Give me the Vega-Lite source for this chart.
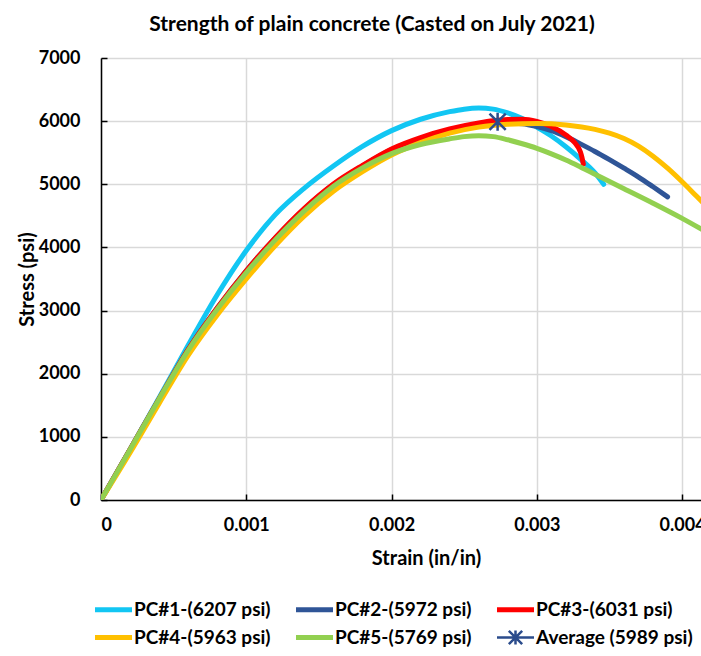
{
  "$schema": "https://vega.github.io/schema/vega-lite/v6.json",
  "autosize": {"type": "none"},
  "width": 600,
  "height": 442,
  "padding": {"left": 101, "top": 58, "right": 0, "bottom": 156},
  "background": "white",
  "title": {"text": "Strength of plain concrete (Casted on July 2021)", "font": "Lato", "fontSize": 21, "fontWeight": "bold", "color": "#000000", "anchor": "middle", "dx": -29, "offset": 14},
  "config": {
    "view": {"stroke": null},
    "font": "Lato",
    "axis": {
      "domainColor": "#000000", "domainWidth": 1.5,
      "tickColor": "#000000", "tickWidth": 1.5, "tickSize": -6,
      "gridColor": "#d9d9d9", "gridWidth": 1.5,
      "labelFont": "Lato", "labelFontSize": 18, "labelFontWeight": "bold", "labelColor": "#000000",
      "titleFont": "Lato", "titleFontSize": 20, "titleFontWeight": "bold", "titleColor": "#000000"
    }
  },
  "datasets": {
    "curves": [
      {"series": "PC#1-(6207 psi)", "strain": 0, "stress": 0},
      {"series": "PC#1-(6207 psi)", "strain": 0.0002, "stress": 800},
      {"series": "PC#1-(6207 psi)", "strain": 0.0004, "stress": 1620},
      {"series": "PC#1-(6207 psi)", "strain": 0.0006, "stress": 2450},
      {"series": "PC#1-(6207 psi)", "strain": 0.0008, "stress": 3250},
      {"series": "PC#1-(6207 psi)", "strain": 0.001, "stress": 3950},
      {"series": "PC#1-(6207 psi)", "strain": 0.0012, "stress": 4520},
      {"series": "PC#1-(6207 psi)", "strain": 0.0014, "stress": 4940},
      {"series": "PC#1-(6207 psi)", "strain": 0.0016, "stress": 5290},
      {"series": "PC#1-(6207 psi)", "strain": 0.0018, "stress": 5600},
      {"series": "PC#1-(6207 psi)", "strain": 0.002, "stress": 5850},
      {"series": "PC#1-(6207 psi)", "strain": 0.0022, "stress": 6030},
      {"series": "PC#1-(6207 psi)", "strain": 0.0024, "stress": 6150},
      {"series": "PC#1-(6207 psi)", "strain": 0.0025, "stress": 6190},
      {"series": "PC#1-(6207 psi)", "strain": 0.0026, "stress": 6207},
      {"series": "PC#1-(6207 psi)", "strain": 0.0027, "stress": 6190},
      {"series": "PC#1-(6207 psi)", "strain": 0.0028, "stress": 6130},
      {"series": "PC#1-(6207 psi)", "strain": 0.0029, "stress": 6040},
      {"series": "PC#1-(6207 psi)", "strain": 0.003, "stress": 5905},
      {"series": "PC#1-(6207 psi)", "strain": 0.0031, "stress": 5765},
      {"series": "PC#1-(6207 psi)", "strain": 0.0032, "stress": 5595},
      {"series": "PC#1-(6207 psi)", "strain": 0.0033, "stress": 5400},
      {"series": "PC#1-(6207 psi)", "strain": 0.0034, "stress": 5180},
      {"series": "PC#1-(6207 psi)", "strain": 0.00346, "stress": 5000},

      {"series": "PC#2-(5972 psi)", "strain": 0, "stress": 0},
      {"series": "PC#2-(5972 psi)", "strain": 0.0002, "stress": 800},
      {"series": "PC#2-(5972 psi)", "strain": 0.0004, "stress": 1600},
      {"series": "PC#2-(5972 psi)", "strain": 0.0006, "stress": 2380},
      {"series": "PC#2-(5972 psi)", "strain": 0.0008, "stress": 3040},
      {"series": "PC#2-(5972 psi)", "strain": 0.001, "stress": 3630},
      {"series": "PC#2-(5972 psi)", "strain": 0.0012, "stress": 4150},
      {"series": "PC#2-(5972 psi)", "strain": 0.0014, "stress": 4610},
      {"series": "PC#2-(5972 psi)", "strain": 0.0016, "stress": 4995},
      {"series": "PC#2-(5972 psi)", "strain": 0.0018, "stress": 5290},
      {"series": "PC#2-(5972 psi)", "strain": 0.002, "stress": 5550},
      {"series": "PC#2-(5972 psi)", "strain": 0.0022, "stress": 5725},
      {"series": "PC#2-(5972 psi)", "strain": 0.0024, "stress": 5855},
      {"series": "PC#2-(5972 psi)", "strain": 0.0026, "stress": 5935},
      {"series": "PC#2-(5972 psi)", "strain": 0.0028, "stress": 5972},
      {"series": "PC#2-(5972 psi)", "strain": 0.0029, "stress": 5960},
      {"series": "PC#2-(5972 psi)", "strain": 0.003, "stress": 5915},
      {"series": "PC#2-(5972 psi)", "strain": 0.0031, "stress": 5850},
      {"series": "PC#2-(5972 psi)", "strain": 0.0032, "stress": 5755},
      {"series": "PC#2-(5972 psi)", "strain": 0.0033, "stress": 5640},
      {"series": "PC#2-(5972 psi)", "strain": 0.0034, "stress": 5520},
      {"series": "PC#2-(5972 psi)", "strain": 0.0035, "stress": 5390},
      {"series": "PC#2-(5972 psi)", "strain": 0.0036, "stress": 5255},
      {"series": "PC#2-(5972 psi)", "strain": 0.0037, "stress": 5115},
      {"series": "PC#2-(5972 psi)", "strain": 0.0038, "stress": 4960},
      {"series": "PC#2-(5972 psi)", "strain": 0.0039, "stress": 4800},

      {"series": "PC#3-(6031 psi)", "strain": 0, "stress": 0},
      {"series": "PC#3-(6031 psi)", "strain": 0.0002, "stress": 800},
      {"series": "PC#3-(6031 psi)", "strain": 0.0004, "stress": 1600},
      {"series": "PC#3-(6031 psi)", "strain": 0.0006, "stress": 2380},
      {"series": "PC#3-(6031 psi)", "strain": 0.0008, "stress": 3040},
      {"series": "PC#3-(6031 psi)", "strain": 0.001, "stress": 3630},
      {"series": "PC#3-(6031 psi)", "strain": 0.0012, "stress": 4155},
      {"series": "PC#3-(6031 psi)", "strain": 0.0014, "stress": 4620},
      {"series": "PC#3-(6031 psi)", "strain": 0.0016, "stress": 5005},
      {"series": "PC#3-(6031 psi)", "strain": 0.0018, "stress": 5300},
      {"series": "PC#3-(6031 psi)", "strain": 0.002, "stress": 5560},
      {"series": "PC#3-(6031 psi)", "strain": 0.0022, "stress": 5740},
      {"series": "PC#3-(6031 psi)", "strain": 0.0024, "stress": 5875},
      {"series": "PC#3-(6031 psi)", "strain": 0.0026, "stress": 5970},
      {"series": "PC#3-(6031 psi)", "strain": 0.0027, "stress": 6005},
      {"series": "PC#3-(6031 psi)", "strain": 0.0028, "stress": 6025},
      {"series": "PC#3-(6031 psi)", "strain": 0.0029, "stress": 6031},
      {"series": "PC#3-(6031 psi)", "strain": 0.003, "stress": 5995},
      {"series": "PC#3-(6031 psi)", "strain": 0.0031, "stress": 5915},
      {"series": "PC#3-(6031 psi)", "strain": 0.0032, "stress": 5780},
      {"series": "PC#3-(6031 psi)", "strain": 0.00326, "stress": 5660},
      {"series": "PC#3-(6031 psi)", "strain": 0.0033, "stress": 5510},
      {"series": "PC#3-(6031 psi)", "strain": 0.00331, "stress": 5430},
      {"series": "PC#3-(6031 psi)", "strain": 0.00332, "stress": 5320},

      {"series": "PC#4-(5963 psi)", "strain": 0, "stress": 0},
      {"series": "PC#4-(5963 psi)", "strain": 0.0002, "stress": 750},
      {"series": "PC#4-(5963 psi)", "strain": 0.0004, "stress": 1530},
      {"series": "PC#4-(5963 psi)", "strain": 0.0006, "stress": 2290},
      {"series": "PC#4-(5963 psi)", "strain": 0.0008, "stress": 2930},
      {"series": "PC#4-(5963 psi)", "strain": 0.001, "stress": 3500},
      {"series": "PC#4-(5963 psi)", "strain": 0.0012, "stress": 4030},
      {"series": "PC#4-(5963 psi)", "strain": 0.0014, "stress": 4500},
      {"series": "PC#4-(5963 psi)", "strain": 0.0016, "stress": 4890},
      {"series": "PC#4-(5963 psi)", "strain": 0.0018, "stress": 5200},
      {"series": "PC#4-(5963 psi)", "strain": 0.002, "stress": 5465},
      {"series": "PC#4-(5963 psi)", "strain": 0.0022, "stress": 5660},
      {"series": "PC#4-(5963 psi)", "strain": 0.0024, "stress": 5810},
      {"series": "PC#4-(5963 psi)", "strain": 0.0026, "stress": 5905},
      {"series": "PC#4-(5963 psi)", "strain": 0.0028, "stress": 5950},
      {"series": "PC#4-(5963 psi)", "strain": 0.003, "stress": 5963},
      {"series": "PC#4-(5963 psi)", "strain": 0.0032, "stress": 5940},
      {"series": "PC#4-(5963 psi)", "strain": 0.0034, "stress": 5870},
      {"series": "PC#4-(5963 psi)", "strain": 0.0035, "stress": 5810},
      {"series": "PC#4-(5963 psi)", "strain": 0.0036, "stress": 5725},
      {"series": "PC#4-(5963 psi)", "strain": 0.0037, "stress": 5605},
      {"series": "PC#4-(5963 psi)", "strain": 0.0038, "stress": 5445},
      {"series": "PC#4-(5963 psi)", "strain": 0.0039, "stress": 5255},
      {"series": "PC#4-(5963 psi)", "strain": 0.004, "stress": 5040},
      {"series": "PC#4-(5963 psi)", "strain": 0.0041, "stress": 4810},
      {"series": "PC#4-(5963 psi)", "strain": 0.0042, "stress": 4580},

      {"series": "PC#5-(5769 psi)", "strain": 0, "stress": 0},
      {"series": "PC#5-(5769 psi)", "strain": 0.0002, "stress": 800},
      {"series": "PC#5-(5769 psi)", "strain": 0.0004, "stress": 1600},
      {"series": "PC#5-(5769 psi)", "strain": 0.0006, "stress": 2370},
      {"series": "PC#5-(5769 psi)", "strain": 0.0008, "stress": 3020},
      {"series": "PC#5-(5769 psi)", "strain": 0.001, "stress": 3600},
      {"series": "PC#5-(5769 psi)", "strain": 0.0012, "stress": 4120},
      {"series": "PC#5-(5769 psi)", "strain": 0.0014, "stress": 4580},
      {"series": "PC#5-(5769 psi)", "strain": 0.0016, "stress": 4970},
      {"series": "PC#5-(5769 psi)", "strain": 0.0018, "stress": 5260},
      {"series": "PC#5-(5769 psi)", "strain": 0.002, "stress": 5485},
      {"series": "PC#5-(5769 psi)", "strain": 0.0022, "stress": 5630},
      {"series": "PC#5-(5769 psi)", "strain": 0.0024, "stress": 5720},
      {"series": "PC#5-(5769 psi)", "strain": 0.0025, "stress": 5755},
      {"series": "PC#5-(5769 psi)", "strain": 0.0026, "stress": 5769},
      {"series": "PC#5-(5769 psi)", "strain": 0.0027, "stress": 5755},
      {"series": "PC#5-(5769 psi)", "strain": 0.0028, "stress": 5705},
      {"series": "PC#5-(5769 psi)", "strain": 0.0029, "stress": 5642},
      {"series": "PC#5-(5769 psi)", "strain": 0.003, "stress": 5570},
      {"series": "PC#5-(5769 psi)", "strain": 0.0031, "stress": 5482},
      {"series": "PC#5-(5769 psi)", "strain": 0.0032, "stress": 5385},
      {"series": "PC#5-(5769 psi)", "strain": 0.0033, "stress": 5275},
      {"series": "PC#5-(5769 psi)", "strain": 0.0034, "stress": 5160},
      {"series": "PC#5-(5769 psi)", "strain": 0.0036, "stress": 4930},
      {"series": "PC#5-(5769 psi)", "strain": 0.0038, "stress": 4700},
      {"series": "PC#5-(5769 psi)", "strain": 0.004, "stress": 4460},
      {"series": "PC#5-(5769 psi)", "strain": 0.0042, "stress": 4200}
    ],
    "avg": [
      {"series": "Average (5989 psi)", "strain": 0.00273, "stress": 5989}
    ]
  },
  "layer": [
    {
      "data": {"name": "curves"},
      "mark": {"type": "line", "strokeWidth": 5, "clip": true, "interpolate": "monotone", "strokeCap": "round"},
      "encoding": {
        "x": {"field": "strain", "type": "quantitative",
              "scale": {"domain": [0, 0.00413], "nice": false, "zero": true},
              "axis": {"values": [0, 0.001, 0.002, 0.003, 0.004], "format": "~g", "title": "Strain (in/in)", "labelPadding": 22, "titleX": 325, "titlePadding": 14}},
        "y": {"field": "stress", "type": "quantitative",
              "scale": {"domain": [0, 7000], "nice": false},
              "axis": {"values": [0, 1000, 2000, 3000, 4000, 5000, 6000, 7000], "format": "d", "title": "Stress (psi)", "labelPadding": 27, "titlePadding": 1}},
        "color": {"field": "series", "type": "nominal",
          "scale": {"domain": ["PC#1-(6207 psi)", "PC#2-(5972 psi)", "PC#3-(6031 psi)", "PC#4-(5963 psi)", "PC#5-(5769 psi)", "Average (5989 psi)"],
                    "range": ["#12C6F3", "#2F5597", "#FF0000", "#FFC000", "#92D050", "#2B4C8C"]},
          "legend": {
            "orient": "none", "legendX": 3, "legendY": 542, "direction": "horizontal", "columns": 3, "title": null,
            "symbolType": "stroke", "symbolSize": 1369, "symbolStrokeWidth": 5,
            "labelFont": "Lato", "labelFontSize": 19, "labelFontWeight": "bold", "labelColor": "#000000", "labelLimit": 400, "labelOffset": 11,
            "columnPadding": 15, "rowPadding": 5,
            "encode": {"symbols": {"update": {
              "shape": {"signal": "datum.value === 'Average (5989 psi)' ? 'M-1,0L1,0M0,-0.38L0,0.38M-0.36,-0.36L0.36,0.36M-0.36,0.36L0.36,-0.36' : 'stroke'"},
              "strokeWidth": {"signal": "datum.value === 'Average (5989 psi)' ? 2.5 : 5"}
            }}}
          }}
      }
    },
    {
      "data": {"name": "avg"},
      "mark": {"type": "point", "shape": "M0,-1L0,1M-0.9,-0.9L0.9,0.9M-0.9,0.9L0.9,-0.9", "size": 324, "filled": false, "strokeWidth": 2.5, "opacity": 1},
      "encoding": {
        "x": {"field": "strain", "type": "quantitative"},
        "y": {"field": "stress", "type": "quantitative"},
        "color": {"field": "series", "type": "nominal"}
      }
    }
  ]
}
